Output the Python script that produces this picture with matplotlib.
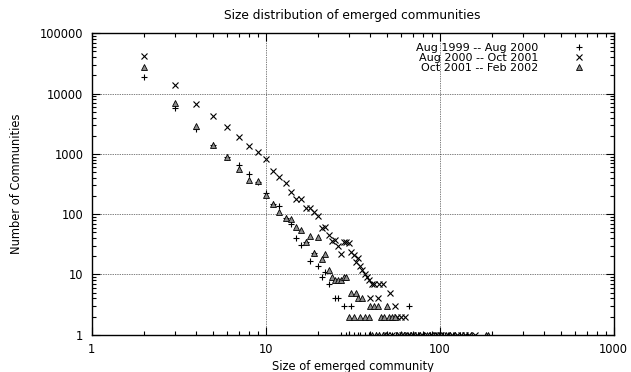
import matplotlib
matplotlib.use('Agg')
import matplotlib.pyplot as plt
from matplotlib.ticker import FixedLocator, LogLocator, NullFormatter

plt.rcParams['font.family'] = ['DejaVu Sans']
FS = 8.3

# community size -> number of communities
labels = ['Aug 1999 -- Aug 2000', 'Aug 2000 -- Oct 2001', 'Oct 2001 -- Feb 2002']

size_9900 = [2, 3, 4, 5, 6, 7, 8, 9, 10, 11, 12, 13, 14, 15, 16, 17, 18, 19, 20,
             21, 22, 23, 25, 26, 28, 31, 67,
             27, 29, 30, 32, 34, 35, 37, 39, 40, 43, 45, 47, 50, 53, 56, 59, 62,
             66, 70, 75, 81, 88, 95, 99, 104, 112, 120, 131, 144]
count_9900 = [18800, 5800, 2600, 1400, 900, 660, 460, 337, 225, 145, 138, 87, 70,
              41, 31, 34, 17, 23, 14, 9, 11, 7, 4, 4, 3, 3, 3,
              1, 1, 1, 1, 1, 1, 1, 1, 1, 1, 1, 1, 1, 1, 1, 1, 1,
              1, 1, 1, 1, 1, 1, 1, 1, 1, 1, 1, 1]

size_0001 = [2, 3, 4, 5, 6, 7, 8, 9, 10, 11, 12, 13, 14, 15, 16, 17, 18, 19, 20,
             21, 22, 23, 24, 25, 26, 27, 28, 29, 30, 31, 32, 33, 34, 35, 36, 37,
             38, 39, 40, 41, 42, 44, 45, 47, 52, 55, 57, 60, 63,
             50, 53, 58, 61, 66, 70, 74, 78, 84, 90, 97, 101, 110, 118, 126, 133,
             140, 148, 160]
count_0001 = [42700, 14000, 6800, 4270, 2760, 1880, 1350, 1080, 830, 530, 420, 325,
              234, 182, 182, 127, 127, 110, 93, 58, 62, 46, 36, 38, 30, 22, 34, 34,
              33, 24, 21, 16, 19, 14, 12, 10, 9, 8, 4, 7, 7, 4, 7, 7, 5, 3, 2, 2, 2,
              1, 1, 1, 1, 1, 1, 1, 1, 1, 1, 1, 1, 1, 1, 1, 1,
              1, 1, 1]

size_0102 = [2, 3, 4, 5, 6, 7, 8, 9, 10, 11, 12, 13, 14, 15, 16, 17, 18, 19, 20,
             21, 22, 23, 24, 25, 26, 27, 28, 29, 31, 33, 30, 32, 35, 37, 39, 34, 36,
             40, 42, 44, 50, 46, 48, 51, 53, 55,
             41, 43, 45, 47, 49, 57, 60, 62, 65, 68, 72, 77, 85, 92, 98, 102, 108,
             115, 122, 137, 152, 185, 190]
count_0102 = [28000, 7100, 2900, 1380, 900, 560, 370, 350, 210, 150, 110, 86, 83,
              62, 55, 35, 43, 23, 42, 18, 22, 12, 9, 8, 8, 8, 9, 9, 5, 5, 2, 2, 2, 2,
              2, 4, 4, 3, 3, 3, 3, 2, 2, 2, 2, 2,
              1, 1, 1, 1, 1, 1, 1, 1, 1, 1, 1, 1, 1, 1, 1, 1, 1,
              1, 1, 1, 1, 1, 1]

fig = plt.figure(figsize=(6.31, 3.72), dpi=100)
ax = fig.add_axes([0.1453, 0.100, 0.8273, 0.8105])

ax.plot(size_9900, count_9900, '+', color='black', ms=4.6, mew=0.8, label=labels[0])
ax.plot(size_0001, count_0001, 'x', color='black', ms=3.8, mew=0.8, label=labels[1])
ax.plot(size_0102, count_0102, '^', mfc='#8c8c8c', mec='black', ms=4.0, mew=0.6,
        label=labels[2])

ax.set_xscale('log')
ax.set_yscale('log')
ax.set_xlim(1, 1000)
ax.set_ylim(1, 100000)

xt = [1, 10, 100, 1000]
yt = [1, 10, 100, 1000, 10000, 100000]
ax.xaxis.set_major_locator(FixedLocator(xt))
ax.yaxis.set_major_locator(FixedLocator(yt))
ax.set_xticklabels([str(v) for v in xt])
ax.set_yticklabels([str(v) for v in yt])
ax.xaxis.set_minor_locator(LogLocator(base=10, subs=range(2, 10)))
ax.yaxis.set_minor_locator(LogLocator(base=10, subs=range(2, 10)))
ax.xaxis.set_minor_formatter(NullFormatter())
ax.yaxis.set_minor_formatter(NullFormatter())

ax.tick_params(which='both', direction='in', top=True, right=True, labelsize=FS,
               width=0.8, color='black')
ax.tick_params(which='major', length=6, pad=6)
ax.tick_params(which='minor', length=3)
for s in ax.spines.values():
    s.set_linewidth(1.0)

ax.grid(True, which='major', linestyle=(0, (1, 1.5)), color='black', linewidth=0.5)

ax.set_title('Size distribution of emerged communities', fontsize=8.8, pad=10)
ax.set_xlabel('Size of emerged community', fontsize=FS, labelpad=3)
ax.set_ylabel('Number of Communities', fontsize=FS, labelpad=12)

leg = ax.legend(loc='upper right', bbox_to_anchor=(0.96, 0.995), markerfirst=False,
                frameon=False, fontsize=8.0, handlelength=1.0, handletextpad=3.2,
                labelspacing=0.0, borderpad=0.2, alignment='right')

fig.savefig('out.png', dpi=100)
